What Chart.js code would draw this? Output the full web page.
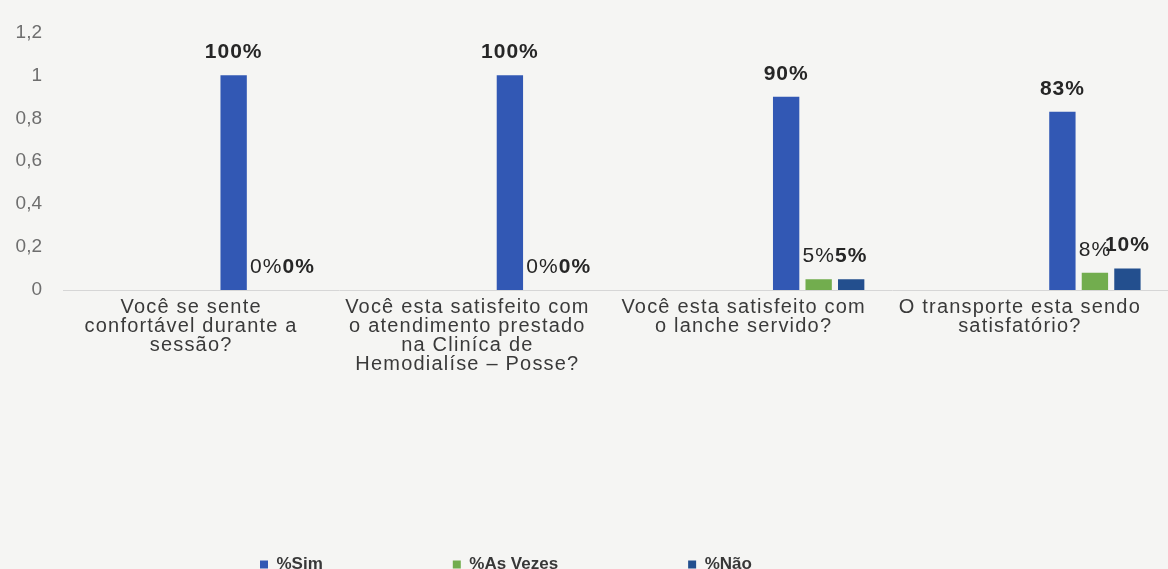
<!DOCTYPE html>
<html>
<head>
<meta charset="utf-8">
<script src="https://cdn.jsdelivr.net/npm/chart.js@4"></script>
<style>
  body { margin: 0; background: #f5f5f3; }
  #wrap { width: 1168px; height: 569px; position: relative; }
</style>
</head>
<body>
<div id="wrap"><canvas id="satisfacao"></canvas></div>
<script>
var perguntas = [
  ["Você se sente", "confortável durante a", "sessão?"],
  ["Você esta satisfeito com", "o atendimento prestado", "na Cliníca de", "Hemodialíse – Posse?"],
  ["Você esta satisfeito com", "o lanche servido?"],
  ["O transporte esta sendo", "satisfatório?"]
];
var simValues = [1, 1, 0.9, 0.83];
var asVezesValues = [0, 0, 0.05, 0.08];
var naoValues = [0, 0, 0.05, 0.1];
var yTicks = [0, 0.2, 0.4, 0.6, 0.8, 1, 1.2];

var FONT = "'Liberation Sans', Arial, sans-serif";

// empty series keep the bars to the right of each label, like the original sheet
function blank() {
  return { label: "", data: [null, null, null, null], backgroundColor: "rgba(0,0,0,0)" };
}

// value labels over the bars; the x labels (drawn after the bars, z:1) get the wide scanned look
var valueLabels = {
  id: "valueLabels",
  beforeDraw: function(chart) {
    chart.ctx.letterSpacing = "0px";
  },
  afterDatasetsDraw: function(chart) {
    var ctx = chart.ctx;
    ctx.letterSpacing = "1px";
    ctx.save();
    ctx.textAlign = "center";
    ctx.textBaseline = "middle";
    ctx.fillStyle = "#262626";
    chart.data.datasets.forEach(function(ds, i) {
      if (!ds.label) return;
      var meta = chart.getDatasetMeta(i);
      ctx.font = (ds.label == "%As Vezes" ? "" : "bold ") + "21px " + FONT;
      meta.data.forEach(function(bar, j) {
        var v = ds.data[j];
        ctx.fillText(Math.round(v * 100) + "%", bar.x, bar.y - 23);
      });
    });
    ctx.restore();
    ctx.letterSpacing = "1.2px";
  }
};

var legendShift = {
  id: "legendShift",
  afterLayout: function(chart) {
    chart.legend.left = 130;
  }
};

var chart = new Chart(document.getElementById("satisfacao"), {
  type: "bar",
  data: {
    labels: perguntas,
    datasets: [
      blank(), blank(), blank(), blank(),
      { label: "%Sim", data: simValues, backgroundColor: "#3258b4" },
      { label: "%As Vezes", data: asVezesValues, backgroundColor: "#72ad4e" },
      { label: "%Não", data: naoValues, backgroundColor: "#234f8e" }
    ]
  },
  options: {
    responsive: true,
    maintainAspectRatio: false,
    animation: false,
    categoryPercentage: 0.824,
    barPercentage: 0.81,
    layout: { padding: { top: 14, right: 0, left: 0, bottom: -14 } },
    scales: {
      x: {
        grid: { display: false, drawTicks: false },
        border: { display: true, color: "#d6d6d6", width: 1 },
        ticks: {
          z: 1,
          autoSkip: false,
          maxRotation: 0,
          padding: 8,
          labelOffset: -10,
          color: "#3a3a3a",
          font: { family: FONT, size: 20, lineHeight: 0.95 }
        },
        afterFit: function(scale) { scale.height = 136; }
      },
      y: {
        min: 0,
        max: 1.2,
        grid: { display: false, drawTicks: false },
        border: { display: false },
        afterBuildTicks: function(scale) {
          scale.ticks = yTicks.map(function(v) { return { value: v }; });
        },
        ticks: {
          padding: 21,
          color: "#6e6e6e",
          font: { family: FONT, size: 19 },
          callback: function(v) { return String(Math.round(v * 10) / 10).replace(".", ","); }
        },
        afterFit: function(scale) { scale.width = 63; }
      }
    },
    plugins: {
      legend: {
        position: "bottom",
        align: "start",
        labels: {
          boxWidth: 8,
          boxHeight: 8,
          padding: 130,
          color: "#383838",
          font: { family: FONT, size: 17, weight: "bold" },
          filter: function(item) { return item.text != ""; }
        }
      },
      tooltip: { enabled: false }
    }
  },
  plugins: [valueLabels, legendShift]
});
</script>
</body>
</html>
